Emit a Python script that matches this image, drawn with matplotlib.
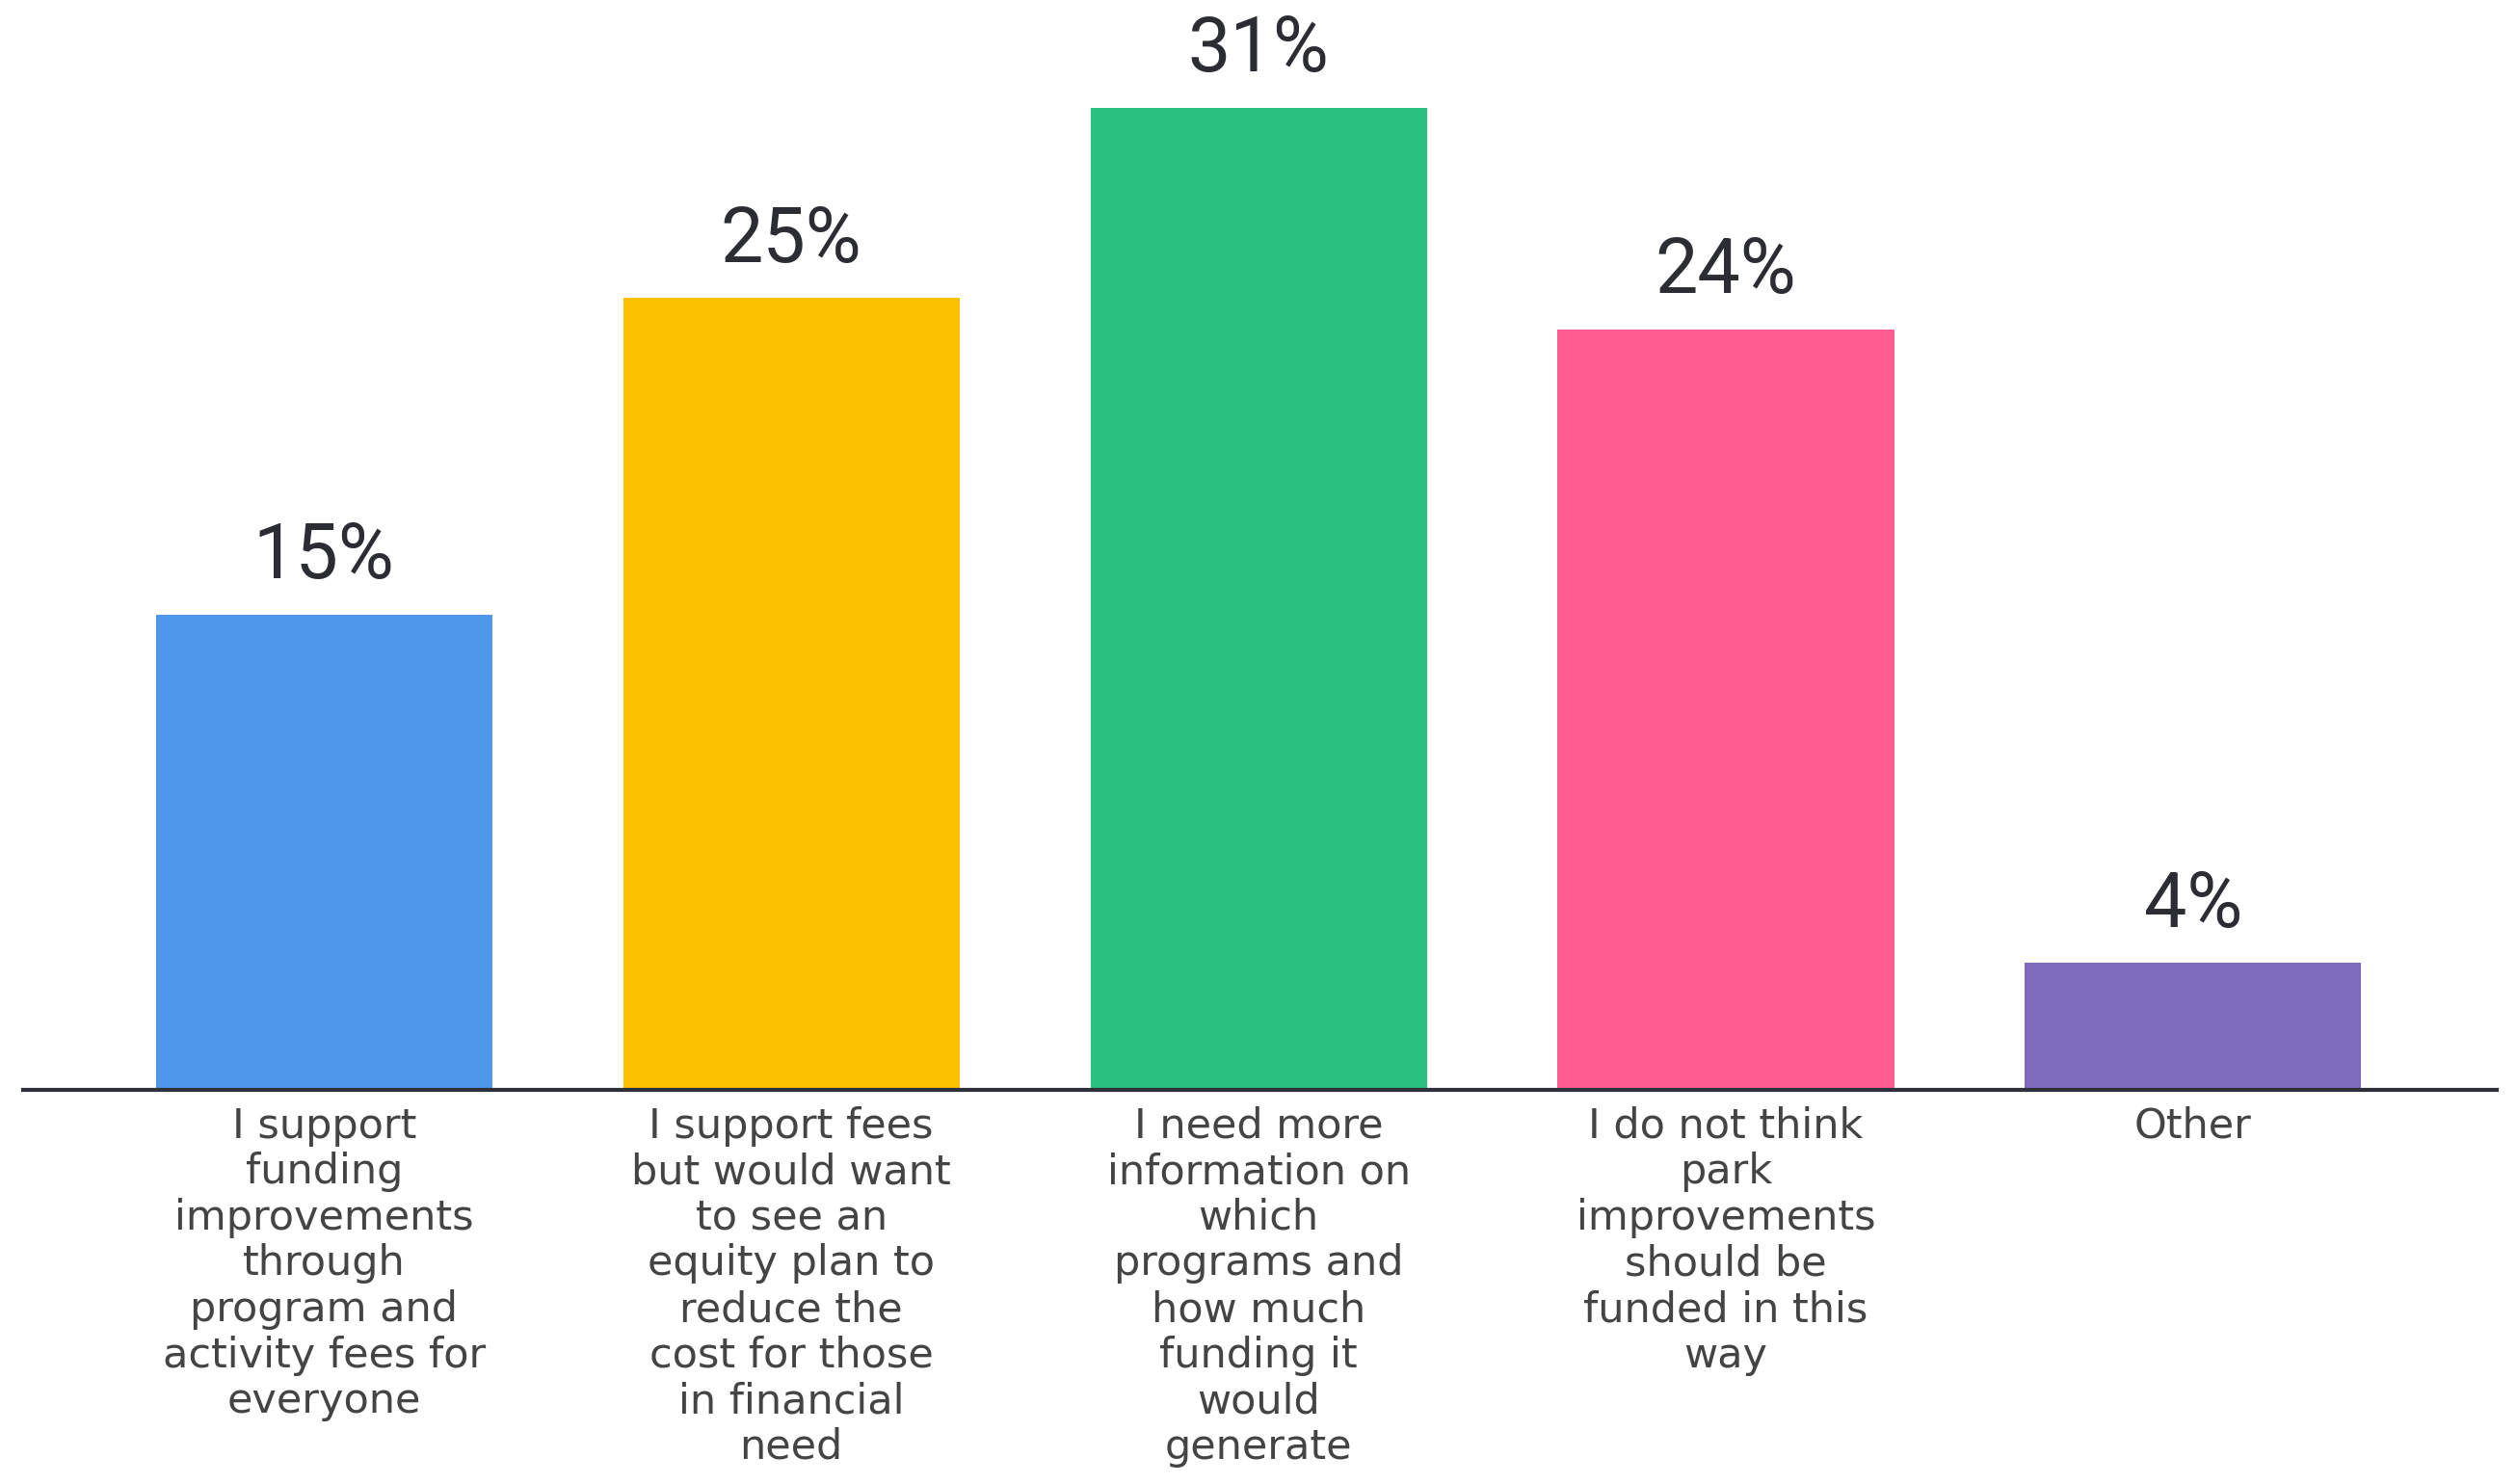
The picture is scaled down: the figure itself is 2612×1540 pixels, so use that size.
import numpy as np
import matplotlib.pyplot as plt

# survey answers
categories = [
    "I support\nfunding\nimprovements\nthrough\nprogram and\nactivity fees for\neveryone",
    "I support fees\nbut would want\nto see an\nequity plan to\nreduce the\ncost for those\nin financial\nneed",
    "I need more\ninformation on\nwhich\nprograms and\nhow much\nfunding it\nwould\ngenerate",
    "I do not think\npark\nimprovements\nshould be\nfunded in this\nway",
    "Other",
]
percents = [15, 25, 31, 24, 4]
bar_colors = ["#4e97ea", "#fcc200", "#29c27f", "#ff5d8f", "#7f6bbd"]

plt.rcParams['font.family'] = ['DejaVu Sans']

fig = plt.figure(figsize=(26.12, 15.40), dpi=100)
ax = fig.add_axes([0.009, 0.2656, 0.983, 0.7344])

x = np.arange(len(categories))
bars = ax.bar(x, percents, width=0.72, color=bar_colors)

for b, v in zip(bars, percents):
    ax.annotate(f"{v}%", (b.get_x() + b.get_width() / 2, v),
                xytext=(0, 27), textcoords='offset points',
                ha='center', va='baseline', fontsize=57, color='#2b2d33',
                family=['Roboto', 'DejaVu Sans'])

ax.set_xlim(-0.645, 4.65)
ax.set_ylim(0, 34.4)
ax.set_xticks(x)
ax.set_xticklabels(categories, fontsize=31, color='#444444', linespacing=1.17)
ax.tick_params(axis='x', length=0, pad=12)
ax.set_yticks([])

for s in ['top', 'right', 'left']:
    ax.spines[s].set_visible(False)
ax.spines['bottom'].set_linewidth(3)
ax.spines['bottom'].set_color('#2d3038')

fig.savefig("out.png", dpi=100)
